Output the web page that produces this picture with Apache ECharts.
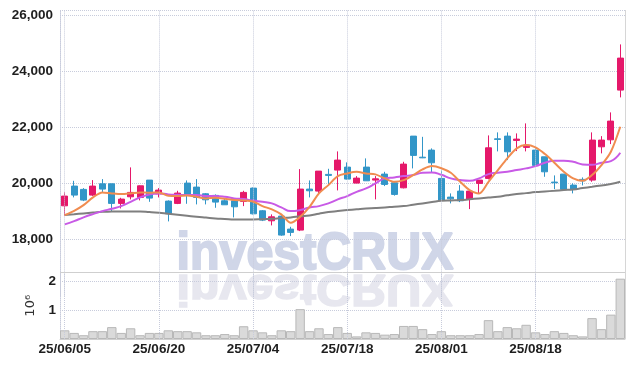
<!DOCTYPE html>
<html>
<head>
<meta charset="utf-8">
<script src="https://cdn.jsdelivr.net/npm/echarts@6/dist/echarts.min.js"></script>
<style>html,body{margin:0;padding:0;background:#fff}#c{width:634px;height:366px}</style>
</head>
<body>
<div id="c"></div>
<script>
const dates = ["25/06/05","25/06/09","25/06/10","25/06/11","25/06/12","25/06/13","25/06/16","25/06/17","25/06/18","25/06/19",
"25/06/20","25/06/23","25/06/24","25/06/25","25/06/26","25/06/27","25/06/30","25/07/01","25/07/02","25/07/03",
"25/07/04","25/07/07","25/07/08","25/07/09","25/07/10","25/07/11","25/07/14","25/07/15","25/07/16","25/07/17",
"25/07/18","25/07/21","25/07/22","25/07/23","25/07/24","25/07/25","25/07/28","25/07/29","25/07/30","25/07/31",
"25/08/01","25/08/04","25/08/05","25/08/06","25/08/07","25/08/08","25/08/11","25/08/12","25/08/13","25/08/14",
"25/08/18","25/08/19","25/08/20","25/08/21","25/08/22","25/08/25","25/08/26","25/08/27","25/08/28","25/08/29"];
const opens  = [19207,19911,19793,19589,19993,19993,19293,19529,19507,20125,19632,19375,19293,20018,19875,19636,19579,19386,19386,19364,
19839,19029,18671,18839,18375,18339,19804,19732,20329,20482,20589,20018,20589,20125,20339,20029,19850,21696,20943,21196,
20186,19518,19732,19436,20007,20186,21600,21696,21543,21293,21196,20957,20054,20339,19946,20150,20125,21314,21564,23339];
const closes = [19554,19589,19411,19911,19804,19293,19446,19686,19921,19482,19768,18921,19661,19614,19507,19421,19339,19243,19171,19686,
18921,18696,18814,18161,18257,19804,19743,20446,20293,20839,20161,20196,20100,20171,19971,19614,20696,21007,20920,20743,
19411,19457,19386,19732,20125,21279,21577,21136,21589,21375,20650,20421,20029,19793,19793,20100,21554,21554,22232,24482];
const lows   = [18839,19507,19375,19554,19696,19018,19114,19436,19400,19350,19507,18650,19268,19279,19257,19257,19136,19243,18793,19196,
18900,18661,18507,18136,18125,18304,19507,19625,19946,19757,20150,20018,20100,19436,19911,19570,19829,20543,20910,20411,
19411,19293,19339,19089,19650,20150,21150,20839,21161,21150,20600,20243,19804,19793,19650,19936,20064,21079,21411,23079];
const highs  = [19686,20100,19839,20125,20160,19993,19493,20579,19936,20125,19839,19400,19743,20114,20160,19660,19614,19450,19410,19743,
19860,19054,18900,18875,18457,20518,20114,20446,20529,21150,20757,20268,20900,20268,20421,20050,20779,21696,21670,21257,
20464,19650,19946,19732,20125,21721,21829,21829,21793,22150,21257,20957,20293,20339,20007,20221,21829,21696,22543,24971];
const ma5  = [18875,19029,19232,19507,19686,19650,19625,19650,19686,19671,19686,19564,19554,19579,19529,19471,19493,19457,19411,19400,
19360,19196,19079,18900,18600,18814,19171,19650,19946,20268,20364,20421,20364,20329,20186,20064,20125,20304,20507,20625,
20550,20386,20064,19768,19650,20064,20482,20900,21257,21375,21293,21054,20743,20421,20186,20100,20304,20661,21136,22029];
const ma20 = [18543,18661,18793,18911,19018,19100,19196,19350,19507,19614,19650,19614,19600,19589,19589,19554,19554,19529,19471,19446,
19393,19350,19293,19150,19018,19054,19150,19196,19293,19436,19554,19707,19829,20007,20186,20221,20268,20304,20386,20400,
20316,20186,20125,20100,20186,20339,20386,20421,20482,20543,20625,20743,20814,20814,20779,20686,20671,20743,20804,21100];
const ma60 = [18875,18905,18936,18965,18993,19000,19007,19007,19007,18985,18957,18920,18886,18850,18814,18785,18757,18740,18721,18721,
18721,18730,18743,18770,18793,18830,18864,18925,18982,19020,19054,19085,19114,19130,19150,19175,19196,19245,19293,19340,
19386,19400,19411,19440,19471,19500,19529,19580,19625,19660,19696,19720,19743,19770,19793,19840,19886,19935,19982,20064];
const volumes = [0.30,0.21,0.13,0.27,0.27,0.41,0.21,0.37,0.13,0.21,0.21,0.30,0.27,0.27,0.23,0.13,0.13,0.17,0.13,0.44,
0.30,0.23,0.13,0.30,0.27,1.03,0.27,0.37,0.17,0.41,0.21,0.09,0.23,0.21,0.15,0.17,0.45,0.45,0.34,0.17,
0.27,0.13,0.13,0.13,0.17,0.65,0.27,0.41,0.37,0.49,0.23,0.17,0.27,0.21,0.13,0.09,0.72,0.34,0.84,2.08];
const priceTicks = [18000,20000,22000,24000,26000];
const volumeTicks = [1,2];
const labelDates = ["25/06/05","25/06/20","25/07/04","25/07/18","25/08/01","25/08/18"];

const UP = '#e5186a', DOWN = '#3296c8';
const GRIDC = '#c8ccdc';
const candleData = dates.map((d,i)=>[opens[i],closes[i],lows[i],highs[i]]);
const labelFont = {fontFamily:'Liberation Sans', fontWeight:'bold', fontSize:13.5, color:'#1e1e1e'};

const chart = echarts.init(document.getElementById('c'), null, {renderer:'canvas'});
const option = {
  backgroundColor:'#fff',
  animation:false,
  grid:[
    {left:60, right:9, top:10, height:285.6},
    {left:60, right:9, top:272.5, height:66.5}
  ],
  xAxis:[
    {type:'category', data:dates, gridIndex:0, boundaryGap:true,
     axisLine:{show:false}, axisTick:{show:false}, axisLabel:{show:false}, splitLine:{show:false}},
    {type:'category', data:dates, gridIndex:1, boundaryGap:true,
     axisLine:{show:true, lineStyle:{color:'#d0d0d0'}}, axisTick:{show:false},
     axisLabel:Object.assign({show:true, margin:3, interval:(idx, val)=>labelDates.indexOf(val)>=0}, labelFont),
     splitLine:{show:false}}
  ],
  yAxis:[
    {type:'value', gridIndex:0, min:16000, max:26200, interval:2000, position:'left',
     axisLine:{show:true, lineStyle:{color:GRIDC, type:'dotted'}}, axisTick:{show:false},
     axisLabel:Object.assign({margin:7, showMinLabel:false, showMaxLabel:false,
       formatter:v=>priceTicks.indexOf(v)>=0 ? v.toLocaleString('en-US') : ''}, labelFont),
     splitLine:{show:true, showMinLine:false, lineStyle:{color:GRIDC, type:'dotted'}}},
    {type:'value', gridIndex:1, min:0, max:2.293, interval:1, position:'left',
     name:'10\u2076', nameLocation:'middle', nameRotate:90, nameGap:14,
     nameTextStyle:{fontFamily:'DejaVu Sans', fontSize:13, color:'#333'},
     axisLine:{show:true, lineStyle:{color:GRIDC, type:'dotted'}}, axisTick:{show:false},
     axisLabel:Object.assign({margin:4, showMinLabel:false, showMaxLabel:false,
       formatter:v=>volumeTicks.indexOf(v)>=0 ? String(v) : ''}, labelFont),
     splitLine:{show:true, showMinLine:false, showMaxLine:false, lineStyle:{color:GRIDC, type:'dotted'}}}
  ],
  graphic:[
    {type:'text', x:315, y:254.3, scaleX:0.93, z:-10, silent:true,
     style:{text:'investCRUX', x:0, y:0, align:'center', verticalAlign:'middle',
       font:'bold 52px "Liberation Sans"', fill:'#d0d6e8', stroke:'#d0d6e8', lineWidth:2}},
    {type:'text', x:315, y:287.5, scaleX:0.93, scaleY:-0.85, z:-10, silent:true,
     style:{text:'investCRUX', x:0, y:0, align:'center', verticalAlign:'middle',
       font:'bold 52px "Liberation Sans"', fill:'#e7e7ef', stroke:'#e7e7ef', lineWidth:2}},
    {type:'line', z:50, silent:true, shape:{x1:60, y1:272.5, x2:625, y2:272.5}, style:{stroke:'#cfcfcf', lineWidth:1}},
    {type:'line', z:50, silent:true, shape:{x1:625.5, y1:10, x2:625.5, y2:339}, style:{stroke:'#d6d6d6', lineWidth:1}}
  ],
  series:[
    {type:'line', xAxisIndex:0, yAxisIndex:0, data:[], z:0, silent:true,
     markLine:{symbol:['none','none'], silent:true, label:{show:false},
       lineStyle:{color:GRIDC, type:'dotted', width:1},
       data:labelDates.map(d=>({xAxis:d}))}},
    {type:'line', xAxisIndex:1, yAxisIndex:1, data:[], z:0, silent:true,
     markLine:{symbol:['none','none'], silent:true, label:{show:false},
       lineStyle:{color:GRIDC, type:'dotted', width:1},
       data:labelDates.map(d=>({xAxis:d}))}},
    {name:'price', type:'candlestick', xAxisIndex:0, yAxisIndex:0, data:candleData, barWidth:6.5, z:3,
     itemStyle:{color:UP, color0:DOWN, borderColor:UP, borderColor0:DOWN, borderWidth:1}},
    {name:'MA60', type:'line', xAxisIndex:0, yAxisIndex:0, data:ma60, symbol:'none', smooth:true, z:4,
     lineStyle:{color:'#7f7f7f', width:2}},
    {name:'MA20', type:'line', xAxisIndex:0, yAxisIndex:0, data:ma20, symbol:'none', smooth:true, z:4,
     lineStyle:{color:'#c85ae6', width:2}},
    {name:'MA5', type:'line', xAxisIndex:0, yAxisIndex:0, data:ma5, symbol:'none', smooth:0.3, z:5,
     lineStyle:{color:'#f08c50', width:2}},
    {name:'volume', type:'bar', xAxisIndex:1, yAxisIndex:1, data:volumes, barCategoryGap:'0%', z:3,
     itemStyle:{color:'#dadada', borderColor:'#b8b8b8', borderWidth:1}}
  ]
};
chart.setOption(option);
</script>
</body>
</html>
